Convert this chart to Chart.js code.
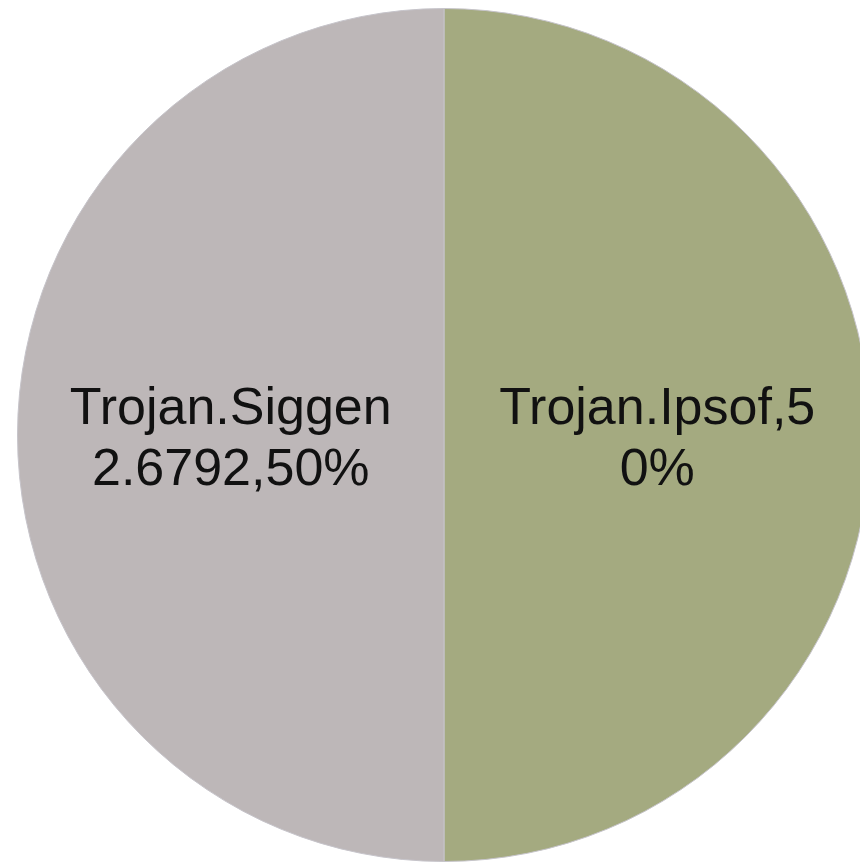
<!DOCTYPE html>
<html>
<head>
<meta charset="utf-8">
<script src="https://cdn.jsdelivr.net/npm/chart.js@4/dist/chart.umd.min.js"></script>
<style>
  html, body { margin: 0; padding: 0; background: #ffffff; overflow: hidden; }
  #wrap { width: 860px; height: 865px; overflow: hidden; position: relative; }
  canvas { display: block; }
</style>
</head>
<body>
<div id="wrap"><canvas id="c" width="880" height="865"></canvas></div>
<script>
// Data
const categories = ["Trojan.Ipsof", "Trojan.Siggen"];
const values = [50, 50];
const labelLines = [
  ["Trojan.Ipsof,5", "0%"],
  ["Trojan.Siggen", "2.6792,50%"]
];
const colors = ["#a4aa80", "#bdb7b8"];

const sliceLabels = {
  id: 'sliceLabels',
  afterDatasetsDraw(chart) {
    const ctx = chart.ctx;
    const meta = chart.getDatasetMeta(0);
    ctx.save();
    ctx.font = '52px "Liberation Sans", Arial, sans-serif';
    ctx.fillStyle = '#111111';
    ctx.textAlign = 'center';
    ctx.textBaseline = 'alphabetic';
    meta.data.forEach((arc, i) => {
      const p = arc.getProps(['x', 'y', 'startAngle', 'endAngle', 'outerRadius'], true);
      const mid = (p.startAngle + p.endAngle) / 2;
      const r = p.outerRadius * 0.5;
      const cx = p.x + Math.cos(mid) * r;
      const cy = p.y + Math.sin(mid) * r;
      const lines = labelLines[i];
      ctx.fillText(lines[0], cx, cy - 11);
      ctx.fillText(lines[1], cx, cy + 50);
    });
    ctx.restore();
  }
};

new Chart(document.getElementById('c'), {
  type: 'pie',
  data: {
    labels: categories,
    datasets: [{
      data: values,
      backgroundColor: colors,
      borderColor: '#c6c4ca',
      borderWidth: 1
    }]
  },
  options: {
    responsive: false,
    animation: false,
    layout: { padding: { left: 17, right: 9, top: 8, bottom: 3 } },
    plugins: {
      legend: { display: false },
      tooltip: { enabled: false }
    }
  },
  plugins: [sliceLabels]
});
</script>
</body>
</html>
